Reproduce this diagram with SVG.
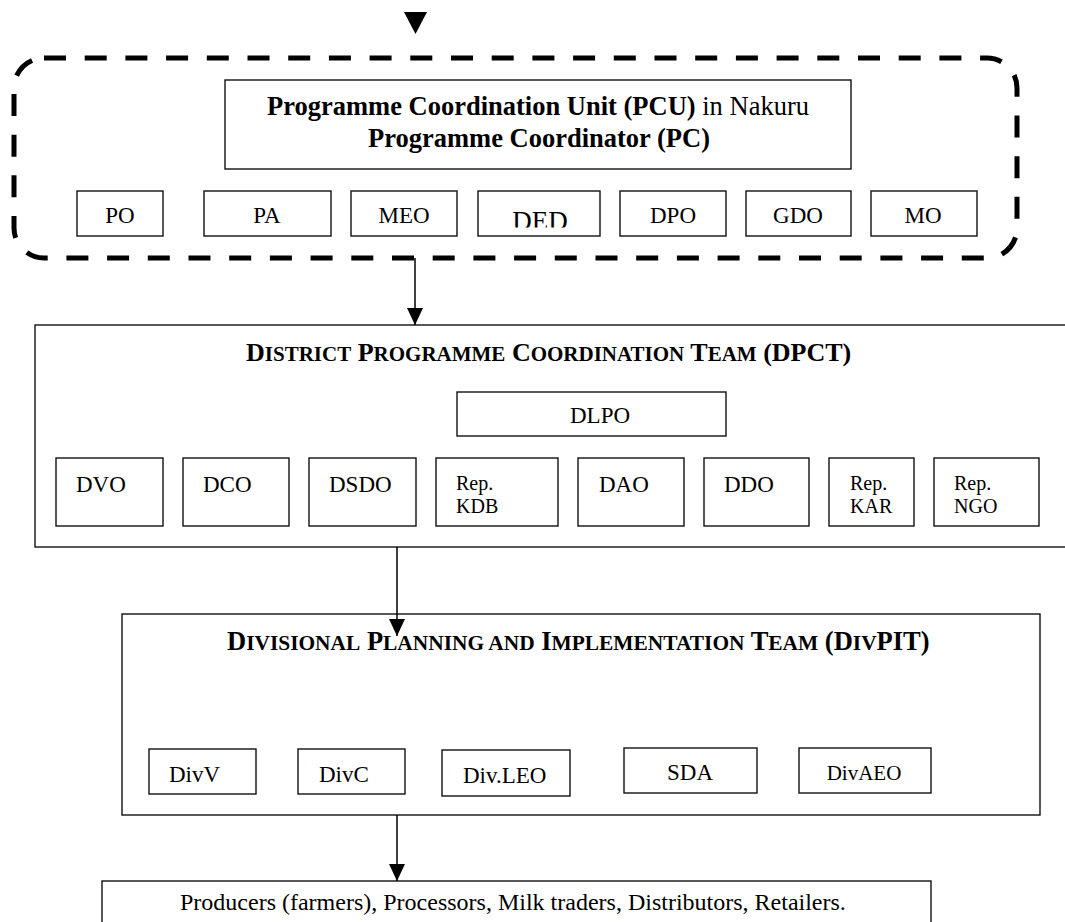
<svg xmlns="http://www.w3.org/2000/svg" width="1065" height="922" viewBox="0 0 1065 922">
<style>
.box{fill:#fff;stroke:#111;stroke-width:1.4}
.t{font-family:"Liberation Serif","Times New Roman",serif;font-size:23px;fill:#000}
.s{font-size:20px}
.b{font-weight:bold}
.big{font-size:26px}
.sm{font-size:21px}
.big2{font-size:26.5px}
.sm2{font-size:21.4px}
.conn{stroke:#000;stroke-width:1.5;fill:none}
</style>
<defs>
<marker id="ah" markerUnits="userSpaceOnUse" markerWidth="18" markerHeight="16" viewBox="0 0 16 15" refX="16" refY="7.5" orient="auto">
<path d="M0,0 L16,7.5 L0,15 Z" fill="#000"/>
</marker>
<clipPath id="dedclip"><rect x="478" y="191" width="122" height="36.5"/></clipPath>
</defs>
<rect width="1065" height="922" fill="#fff"/>

<g id="entry-arrow">
<path d="M404,12 L427,12 L415.5,34 Z" fill="#000"/>
</g>

<g id="pcu-group">
<rect x="14" y="58" width="1003" height="200" rx="30" ry="30" fill="none" stroke="#000" stroke-width="5" stroke-dasharray="22 18.7"/>
</g>

<g id="pcu">
<rect class="box" x="225" y="80" width="626" height="89"/>
<text class="t" x="538" y="115" text-anchor="middle" style="font-size:26.5px"><tspan class="b">Programme Coordination Unit (PCU)</tspan> in Nakuru</text>
<text class="t b" x="539" y="147" text-anchor="middle" style="font-size:26.5px">Programme Coordinator (PC)</text>
</g>
<g id="po"><rect class="box" x="77" y="191" width="86" height="45"/><text class="t" x="120" y="223" text-anchor="middle">PO</text></g>
<g id="pa"><rect class="box" x="204" y="191" width="127" height="45"/><text class="t" x="267" y="223" text-anchor="middle">PA</text></g>
<g id="meo"><rect class="box" x="351" y="191" width="106" height="45"/><text class="t" x="404" y="223" text-anchor="middle">MEO</text></g>
<g id="ded"><rect class="box" x="478" y="191" width="122" height="45"/><text class="t" x="540" y="230" text-anchor="middle" style="font-size:27px" clip-path="url(#dedclip)">DED</text></g>
<g id="dpo"><rect class="box" x="620" y="191" width="106" height="45"/><text class="t" x="673" y="223" text-anchor="middle">DPO</text></g>
<g id="gdo"><rect class="box" x="746" y="191" width="105" height="45"/><text class="t" x="798" y="223" text-anchor="middle">GDO</text></g>
<g id="mo"><rect class="box" x="871" y="191" width="106" height="45"/><text class="t" x="923" y="223" text-anchor="middle">MO</text></g>

<g id="dpct">
<rect class="box" x="35" y="325" width="1100" height="222"/>
<text class="t b" x="246" y="361"><tspan class="big">D</tspan><tspan class="sm">ISTRICT</tspan><tspan class="big"> P</tspan><tspan class="sm">ROGRAMME</tspan><tspan class="big"> C</tspan><tspan class="sm">OORDINATION</tspan><tspan class="big"> T</tspan><tspan class="sm">EAM</tspan><tspan class="big"> (DPCT)</tspan></text>
</g>
<g id="dlpo"><rect class="box" x="457" y="392" width="269" height="44"/><text class="t" x="570" y="423">DLPO</text></g>
<g id="dvo"><rect class="box" x="56" y="458" width="107" height="68"/><text class="t" x="76" y="492">DVO</text></g>
<g id="dco"><rect class="box" x="183" y="458" width="106" height="68"/><text class="t" x="203" y="492">DCO</text></g>
<g id="dsdo"><rect class="box" x="309" y="458" width="107" height="68"/><text class="t" x="329" y="492">DSDO</text></g>
<g id="rep-kdb"><rect class="box" x="436" y="458" width="122" height="68"/><text class="t s" x="456" y="490">Rep.</text><text class="t s" x="456" y="513">KDB</text></g>
<g id="dao"><rect class="box" x="578" y="458" width="106" height="68"/><text class="t" x="599" y="492">DAO</text></g>
<g id="ddo"><rect class="box" x="704" y="458" width="105" height="68"/><text class="t" x="724" y="492">DDO</text></g>
<g id="rep-kar"><rect class="box" x="829" y="458" width="85" height="68"/><text class="t s" x="850" y="490">Rep.</text><text class="t s" x="850" y="513">KAR</text></g>
<g id="rep-ngo"><rect class="box" x="934" y="458" width="105" height="68"/><text class="t s" x="954" y="490">Rep.</text><text class="t s" x="954" y="513">NGO</text></g>

<g id="divpit">
<rect class="box" x="122" y="614" width="918" height="201"/>
<text class="t b" x="227" y="650"><tspan class="big2">D</tspan><tspan class="sm2">IVISIONAL</tspan><tspan class="big2"> P</tspan><tspan class="sm2">LANNING AND</tspan><tspan class="big2"> I</tspan><tspan class="sm2">MPLEMENTATION</tspan><tspan class="big2"> T</tspan><tspan class="sm2">EAM</tspan><tspan class="big2"> (D</tspan><tspan class="sm2">IV</tspan><tspan class="big2">PIT)</tspan></text>
</g>
<g id="divv"><rect class="box" x="149" y="749" width="107" height="45"/><text class="t" x="169" y="782">DivV</text></g>
<g id="divc"><rect class="box" x="298" y="749" width="107" height="45"/><text class="t" x="319" y="782">DivC</text></g>
<g id="divleo"><rect class="box" x="442" y="750" width="128" height="46"/><text class="t" x="463" y="783">Div.LEO</text></g>
<g id="sda"><rect class="box" x="624" y="748" width="133" height="45"/><text class="t" x="690" y="780" text-anchor="middle">SDA</text></g>
<g id="divaeo"><rect class="box" x="799" y="748" width="132" height="45"/><text class="t" x="864" y="780" text-anchor="middle" style="font-size:21px">DivAEO</text></g>

<g id="stakeholders">
<rect class="box" x="102" y="881" width="829" height="100"/>
<text class="t" x="180" y="910" style="font-size:24px">Producers (farmers), Processors, Milk traders, Distributors, Retailers.</text>
</g>

<g id="connectors">
<line class="conn" x1="415" y1="258" x2="415" y2="325" marker-end="url(#ah)"/>
<line class="conn" x1="397" y1="547" x2="397" y2="636" marker-end="url(#ah)"/>
<line class="conn" x1="397" y1="815" x2="397" y2="881" marker-end="url(#ah)"/>
</g>
</svg>
